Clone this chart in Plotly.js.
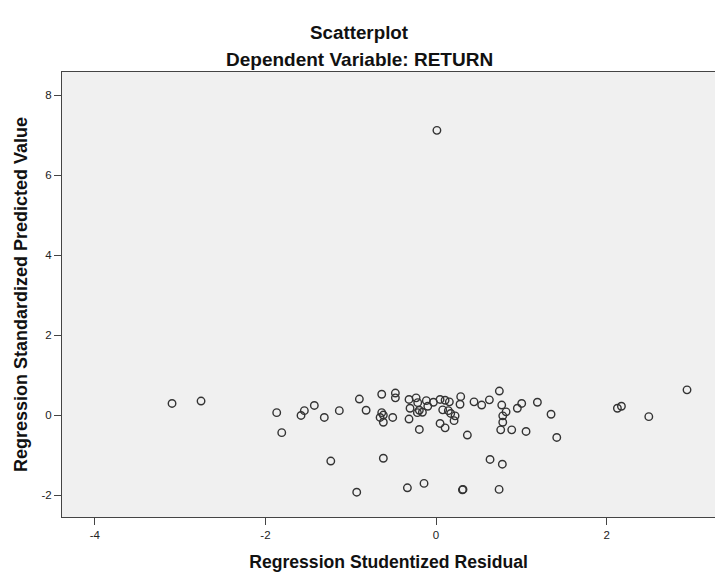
<!DOCTYPE html>
<html>
<head>
<meta charset="utf-8">
<script src="https://cdn.plot.ly/plotly-3.0.1.min.js"></script>
<style>
html,body{margin:0;padding:0;background:#fff;}
#chart{width:715px;height:574px;}
</style>
</head>
<body>
<div id="chart"></div>
<script>
// Regression Studentized Residual (x) and Regression Standardized Predicted Value (y)
const residual = [
  -3.095, -2.755, -1.868, -1.809, -1.583, -1.544, -1.427, -1.310, -1.134, -1.234,
  -0.899, -0.820, -0.637, -0.477, -0.477, -0.637, -0.618, -0.656, -0.618, -0.508,
  -0.317, -0.234, -0.305, -0.215, -0.196, -0.219, -0.160, -0.114, -0.097, -0.317,
  -0.031, 0.047, 0.106, 0.156, 0.078, 0.144, 0.172, 0.223, 0.211, 0.047,
  0.106, -0.196, 0.289, 0.281, 0.445, 0.367, 0.535, 0.625, 0.742, 0.770,
  0.821, 0.782, 0.782, 0.758, 0.887, 1.055, 0.953, 1.004, 1.188, 1.348,
  1.415, 2.126, 2.173, 2.494, 2.942, 0.010, -0.618, 0.633, 0.777, -0.930,
  -0.336, -0.141, 0.309, 0.316, 0.739
];
const predicted = [
  0.29, 0.35, 0.06, -0.44, -0.01, 0.11, 0.24, -0.06, 0.11, -1.15,
  0.40, 0.12, 0.52, 0.55, 0.43, 0.06, 0.00, -0.06, -0.18, -0.06,
  0.39, 0.43, 0.17, 0.31, 0.12, 0.06, 0.07, 0.36, 0.22, -0.10,
  0.32, 0.39, 0.37, 0.33, 0.13, 0.11, 0.04, -0.02, -0.14, -0.21,
  -0.32, -0.36, 0.46, 0.27, 0.33, -0.50, 0.25, 0.38, 0.60, 0.25,
  0.08, -0.02, -0.18, -0.37, -0.37, -0.41, 0.17, 0.29, 0.32, 0.02,
  -0.56, 0.17, 0.22, -0.04, 0.63, 7.12, -1.08, -1.11, -1.23, -1.93,
  -1.82, -1.71, -1.87, -1.86, -1.86
];
const xTicks = [-4, -2, 0, 2];
const yTicks = [-2, 0, 2, 4, 6, 8];
const titleText = "Scatterplot";
const subtitleText = "Dependent Variable: RETURN";
const xTitle = "Regression Studentized Residual";
const yTitle = "Regression Standardized Predicted Value";

const font = "Liberation Sans, Arial, sans-serif";

const trace = {
  x: residual,
  y: predicted,
  type: "scatter",
  mode: "markers",
  marker: {
    symbol: "circle-open",
    size: 7.5,
    color: "#333333",
    line: {width: 1.4, color: "#333333"}
  },
  hoverinfo: "x+y"
};

const layout = {
  width: 715,
  height: 574,
  margin: {l: 62, r: 0, t: 72, b: 57},
  paper_bgcolor: "#ffffff",
  plot_bgcolor: "#f0f0f0",
  showlegend: false,
  font: {family: font, size: 11, color: "#222"},
  xaxis: {
    range: [-4.385, 3.27],
    tickvals: xTicks,
    ticktext: xTicks.map(String),
    ticks: "outside",
    ticklen: 7,
    tickwidth: 1,
    tickcolor: "#444",
    showgrid: false,
    zeroline: false,
    showline: true,
    linecolor: "#444",
    linewidth: 1,
    mirror: true,
    tickfont: {family: font, size: 11.5, color: "#222"},
    title: {text: xTitle, font: {family: font, size: 17.6, color: "#111", weight: "bold"}, standoff: 15}
  },
  yaxis: {
    range: [-2.55, 8.58],
    tickvals: yTicks,
    ticktext: yTicks.map(String),
    ticks: "outside",
    ticklen: 7,
    tickwidth: 1,
    tickcolor: "#444",
    showgrid: false,
    zeroline: false,
    showline: true,
    linecolor: "#444",
    linewidth: 1,
    mirror: false,
    tickfont: {family: font, size: 11.5, color: "#222"},
    title: {text: yTitle, font: {family: font, size: 18, color: "#111", weight: "bold"}, standoff: 9}
  },
  annotations: [
    {text: "<b>" + titleText + "</b>", xref: "paper", yref: "paper", x: 0.456, y: 1, yshift: 40,
     showarrow: false, xanchor: "center", yanchor: "middle", font: {family: font, size: 18.8, color: "#111"}},
    {text: "<b>" + subtitleText + "</b>", xref: "paper", yref: "paper", x: 0.456, y: 1, yshift: 13,
     showarrow: false, xanchor: "center", yanchor: "middle", font: {family: font, size: 19, color: "#111"}}
  ]
};

Plotly.newPlot("chart", [trace], layout, {displayModeBar: false, staticPlot: true});
</script>
</body>
</html>
